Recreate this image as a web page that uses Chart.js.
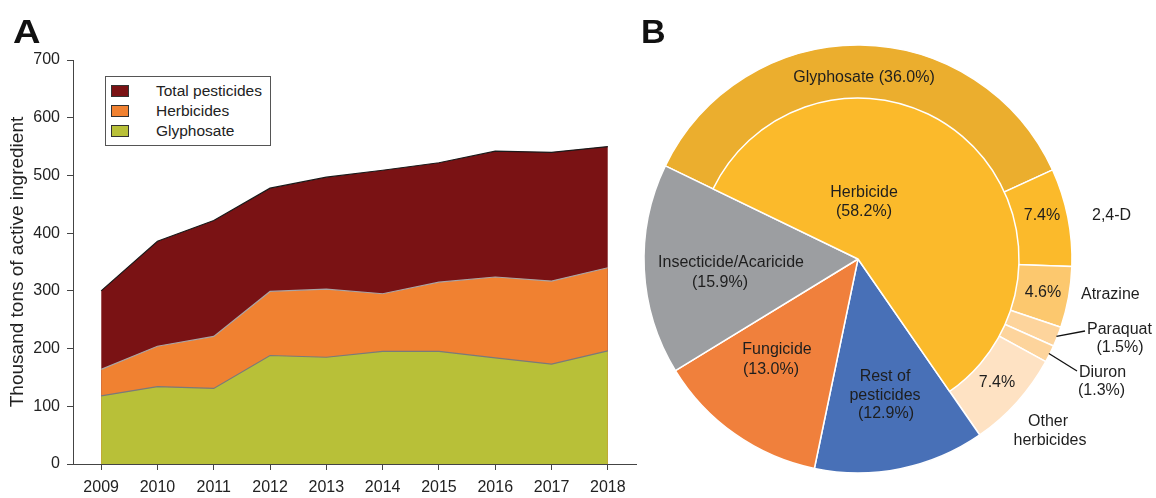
<!DOCTYPE html>
<html>
<head>
<meta charset="utf-8">
<script src="https://cdn.jsdelivr.net/npm/chart.js@4.4.0/dist/chart.umd.min.js"></script>
<style>
  body { margin: 0; background: #fff; font-family: "Liberation Sans", Arial, sans-serif; }
  #page { position: relative; width: 1156px; height: 498px; overflow: hidden; background: #fff; }
  .tag { position: absolute; font-weight: bold; font-size: 34px; line-height: 34px; color: #111; }
  #boxA { position: absolute; left: 0; top: 0; width: 645px; height: 498px; }
  #boxB, #boxB2 { position: absolute; left: 640px; top: 0; width: 516px; height: 498px; }
  #legendA { position: absolute; left: 105px; top: 76px; width: 164px; height: 68px; border: 1px solid #555; background: #fff; }
  .row { position: absolute; left: 0; height: 20px; width: 160px; }
  .sw { position: absolute; left: 5px; top: 4px; width: 16px; height: 10px; border: 1px solid #333; }
  .lbl { position: absolute; left: 50px; top: 0; font-size: 15.5px; line-height: 20px; color: #222; white-space: nowrap; }
</style>
</head>
<body>
<div id="page">
  <div id="boxA"><canvas id="chartA"></canvas></div>
  <div id="legendA"></div>
  <div id="boxB"><canvas id="chartB"></canvas></div>
  <div id="boxB2"><canvas id="chartB2"></canvas></div>
  <div class="tag" style="left:13px; top:14px; transform:scaleX(1.12); transform-origin:left top;">A</div>
  <div class="tag" style="left:641px; top:14px;">B</div>
</div>
<script>
// panel A data (thousand tons of active ingredient)
var years = ['2009', '2010', '2011', '2012', '2013', '2014', '2015', '2016', '2017', '2018']
var totalPesticides = [300, 386, 422, 478, 497, 509, 522, 542, 540, 550]
var herbicides = [164, 204, 221, 299, 303, 295, 315, 324, 317, 340]
var glyphosate = [118, 134, 131, 188, 185, 195, 195, 184, 173, 196]
var yTicks = [0, 100, 200, 300, 400, 500, 600, 700]

// panel B data (share of total, %)
var mainCategories = ['Herbicide', 'Rest of pesticides', 'Fungicide', 'Insecticide/Acaricide']
var mainShares = [58.2, 12.9, 13.0, 15.9]
var herbicideParts = ['Glyphosate', '2,4-D', 'Atrazine', 'Paraquat', 'Diuron', 'Other herbicides']
var herbicideShares = [36.0, 7.4, 4.6, 1.5, 1.3, 7.4]

var fontFamily = '"Liberation Sans", Arial, sans-serif'
Chart.defaults.font.family = fontFamily
Chart.defaults.color = '#222'

var seriesA = [
  { label: 'Total pesticides', data: totalPesticides, fill: '#7A1214', line: '#1a1a1a' },
  { label: 'Herbicides', data: herbicides, fill: '#F08131', line: '#aaa4a4' },
  { label: 'Glyphosate', data: glyphosate, fill: '#B8C038', line: '#7a7a7a' }
]

// legend box, same order as in the figure
var legendA = document.getElementById('legendA')
seriesA.forEach(function(s, i) {
  var row = document.createElement('div')
  row.className = 'row'
  row.style.top = (4 + i * 20) + 'px'
  row.innerHTML = '<div class="sw" style="background:' + s.fill + '"></div><div class="lbl">' + s.label + '</div>'
  legendA.appendChild(row)
})

// first dataset is painted last, so glyphosate goes first
var datasetsA = seriesA.slice().reverse().map(function(s) {
  return {
    label: s.label,
    data: s.data,
    backgroundColor: s.fill,
    borderColor: s.line,
    borderWidth: 1.2,
    fill: 'origin',
    pointRadius: 0,
    tension: 0
  }
})

new Chart(document.getElementById('chartA'), {
  type: 'line',
  data: { labels: years, datasets: datasetsA },
  options: {
    responsive: true,
    maintainAspectRatio: false,
    animation: false,
    events: [],
    layout: { padding: { left: 0, right: 9, top: 60, bottom: 0 } },
    plugins: { legend: { display: false }, tooltip: { enabled: false } },
    scales: {
      x: {
        offset: true,
        grid: { display: true, drawOnChartArea: false, tickLength: 6, color: '#444', offset: false },
        border: { color: '#444', width: 1 },
        ticks: { font: { size: 16 }, color: '#222', padding: 8, maxRotation: 0, autoSkip: false },
        afterFit: function(scale) { scale.height = 34 }
      },
      y: {
        min: yTicks[0],
        max: yTicks[yTicks.length - 1],
        ticks: { stepSize: 100, font: { size: 16 }, color: '#222', padding: 7 },
        grid: { drawOnChartArea: false, tickLength: 6, color: '#444' },
        border: { color: '#444', width: 1 },
        title: { display: true, text: 'Thousand tons of active ingredient', font: { size: 19 }, color: '#222', padding: { top: 6, bottom: 0 } },
        afterFit: function(scale) { scale.width = 73 }
      }
    }
  }
})

// panel B: full pie with herbicide split in the outer ring
var outerLabels = herbicideParts.concat(mainCategories.slice(1))
var outerValues = herbicideShares.concat(mainShares.slice(1))
var outerColors = ['#EBAE2E', '#FBBA2B', '#FCC86E', '#FDD49C', '#FDD49C', '#FEE2C3', '#4870B7', '#F0803C', '#9C9EA1']
var innerColors = ['#FBBA2B', 'rgba(0,0,0,0)', 'rgba(0,0,0,0)', 'rgba(0,0,0,0)']
var innerBorders = ['#fff', 'rgba(0,0,0,0)', 'rgba(0,0,0,0)', 'rgba(0,0,0,0)']
var startAngle = -64.2
var padB = { left: 0, right: 80, top: 20, bottom: 0 }

function pct(v) { return '(' + v.toFixed(1) + '%)' }
function bare(v) { return v.toFixed(1) + '%' }

// label text placed relative to the pie centre
var pieText = [
  { t: herbicideParts[0] + ' ' + pct(herbicideShares[0]), dx: 6, dy: -181 },
  { t: mainCategories[0], dx: 6, dy: -66 },
  { t: pct(mainShares[0]), dx: 6, dy: -47 },
  { t: bare(herbicideShares[1]), dx: 184, dy: -43 },
  { t: herbicideParts[1], dx: 234, dy: -43, align: 'left' },
  { t: bare(herbicideShares[2]), dx: 185, dy: 34 },
  { t: herbicideParts[2], dx: 223, dy: 36, align: 'left' },
  { t: herbicideParts[3], dx: 229, dy: 71, align: 'left' },
  { t: pct(herbicideShares[3]), dx: 262, dy: 89 },
  { t: herbicideParts[4], dx: 221, dy: 114, align: 'left' },
  { t: pct(herbicideShares[4]), dx: 220, dy: 132, align: 'left' },
  { t: bare(herbicideShares[5]), dx: 139, dy: 124 },
  { t: 'Other', dx: 190, dy: 163 },
  { t: 'herbicides', dx: 192, dy: 182 },
  { t: 'Rest of', dx: 27, dy: 118 },
  { t: 'pesticides', dx: 27, dy: 137 },
  { t: pct(mainShares[1]), dx: 28, dy: 155 },
  { t: mainCategories[2], dx: -81, dy: 91 },
  { t: pct(mainShares[2]), dx: -87, dy: 111 },
  { t: mainCategories[3], dx: -127, dy: 4 },
  { t: pct(mainShares[3]), dx: -138, dy: 24 }
]
var leaders = [
  { slice: 3, dx: 227, dy: 72 },
  { slice: 4, dx: 219, dy: 112 }
]

var chartB = new Chart(document.getElementById('chartB'), {
  type: 'pie',
  data: {
    labels: outerLabels,
    datasets: [{
      data: outerValues,
      backgroundColor: outerColors,
      borderColor: '#fff',
      borderWidth: 1.5,
      rotation: startAngle,
      radius: 214
    }]
  },
  options: {
    responsive: true,
    maintainAspectRatio: false,
    animation: false,
    events: [],
    layout: { padding: padB },
    plugins: { legend: { display: false }, tooltip: { enabled: false } }
  }
})

var pieLabels = {
  id: 'pieLabels',
  afterDraw: function(chart) {
    var ctx = chart.ctx
    var outer = chartB.getDatasetMeta(0).data
    var cx = outer[0].x, cy = outer[0].y
    ctx.save()
    ctx.strokeStyle = '#111'
    ctx.lineWidth = 1.3
    leaders.forEach(function(l) {
      var a = outer[l.slice]
      var mid = (a.startAngle + a.endAngle) / 2
      var r = a.outerRadius - 1
      ctx.beginPath()
      ctx.moveTo(cx + Math.cos(mid) * r, cy + Math.sin(mid) * r)
      ctx.lineTo(cx + l.dx, cy + l.dy)
      ctx.stroke()
    })
    ctx.font = '16px ' + fontFamily
    ctx.fillStyle = '#1e1e1e'
    ctx.textBaseline = 'middle'
    pieText.forEach(function(p) {
      ctx.textAlign = p.align || 'center'
      ctx.fillText(p.t, cx + p.dx, cy + p.dy)
    })
    ctx.restore()
  }
}

// herbicide wedge on top, inner radius only
new Chart(document.getElementById('chartB2'), {
  type: 'pie',
  data: {
    labels: mainCategories,
    datasets: [{
      data: mainShares,
      backgroundColor: innerColors,
      borderColor: innerBorders,
      borderWidth: 1.5,
      rotation: startAngle,
      radius: 161
    }]
  },
  options: {
    responsive: true,
    maintainAspectRatio: false,
    animation: false,
    events: [],
    layout: { padding: padB },
    plugins: { legend: { display: false }, tooltip: { enabled: false } }
  },
  plugins: [pieLabels]
})
</script>
</body>
</html>
